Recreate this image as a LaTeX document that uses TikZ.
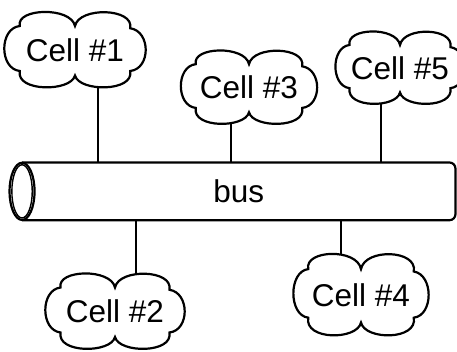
\documentclass[tikz,border=0pt]{standalone}
\usepackage{fontspec}
\setmainfont{Liberation Sans}
\usetikzlibrary{backgrounds}
% a six-puff cloud around node #1, half width #2, half height #3
\newcommand\cellcloud[3]{%
  \begin{scope}[shift={(#1.center)}, x=#2pt, y=-#3pt]
    \draw[cloudline] (-0.8,0.56)
      .. controls (-1.1,0.5) and (-1.1,-0.58) .. (-0.8,-0.64)
      .. controls (-0.86,-1.12) and (-0.06,-1.16) .. (0,-0.64)
      .. controls (0.06,-1.16) and (0.86,-1.12) .. (0.8,-0.58)
      .. controls (1.1,-0.5) and (1.1,0.5) .. (0.8,0.56)
      .. controls (0.86,1.12) and (0.06,1.12) .. (0,0.68)
      .. controls (-0.06,1.12) and (-0.86,1.12) .. cycle;
  \end{scope}}
\begin{document}
\begin{tikzpicture}[x=1pt,y=-1pt,
  cell/.style={inner sep=0pt, font=\fontsize{31.5}{32}\selectfont},
  cloudline/.style={line width=2.2pt, fill=white, line join=miter},
  wire/.style={line width=2.2pt},
  pipe/.style={line width=2.2pt}]
\useasboundingbox (0,0) rectangle (457,351);

% the bus body
\node[minimum width=433pt, minimum height=57.3pt, inner sep=0pt,
      font=\fontsize{31.5}{32}\selectfont] (bus) at (238.75,191.35) {bus};
\draw[pipe, rounded corners=6pt] (bus.north west) -- (bus.north east)
   -- (bus.south east) -- (bus.south west);
\draw[pipe] (bus.west) ellipse [x radius=12.5, y radius=28.6];
\draw[line width=1.4pt] (bus.west) ellipse [x radius=10.2, y radius=26.6];

% the cells
\node[cell] (c1) at (75,50) {Cell \#1};
\node[cell] (c2) at (115,311.5) {Cell \#2};
\node[cell] (c3) at (249,87.5) {Cell \#3};
\node[cell] (c4) at (361,295) {Cell \#4};
\node[cell] (c5) at (400,68) {Cell \#5};

% taps from the cells to the bus, then the cloud outlines over them
\path (97.7,0) coordinate (x1) (135.7,0) coordinate (x2) (231,0) coordinate (x3)
      (341,0) coordinate (x4) (380.7,0) coordinate (x5);
\begin{pgfonlayer}{background}
\draw[wire] (x1 |- c1.center) -- (x1 |- bus.north);
\draw[wire] (x3 |- c3.center) -- (x3 |- bus.north);
\draw[wire] (x5 |- c5.center) -- (x5 |- bus.north);
\draw[wire] (x2 |- c2.center) -- (x2 |- bus.south);
\draw[wire] (x4 |- c4.center) -- (x4 |- bus.south);
\cellcloud{c1}{69}{37.5}
\cellcloud{c2}{68}{37.5}
\cellcloud{c3}{66.5}{36.5}
\cellcloud{c4}{66}{40.5}
\cellcloud{c5}{63}{36}
\end{pgfonlayer}
\end{tikzpicture}
\end{document}
